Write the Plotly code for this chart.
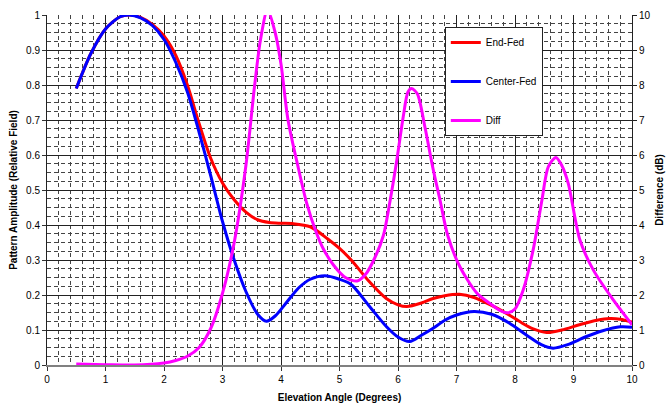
import plotly.graph_objects as go

# ---- data ----
end_fed_x = [0.5, 0.75, 1.0, 1.25, 1.4, 1.6, 1.8, 2.0, 2.2, 2.4, 2.6, 2.8, 3.0, 3.2, 3.4, 3.6,
             3.8, 4.0, 4.2, 4.5, 4.8, 5.0, 5.2, 5.5, 5.8, 6.0, 6.15, 6.4, 6.6, 6.8, 7.05, 7.3,
             7.5, 7.7, 7.9, 8.1, 8.3, 8.54, 8.8, 9.1, 9.4, 9.62, 9.8, 10.0]
end_fed_y = [0.79, 0.89, 0.96, 0.995, 1.0, 0.993, 0.973, 0.94, 0.885, 0.80, 0.69, 0.59, 0.52,
             0.472, 0.437, 0.415, 0.407, 0.405, 0.404, 0.395, 0.36, 0.333, 0.30, 0.24, 0.19,
             0.172, 0.167, 0.177, 0.19, 0.198, 0.202, 0.193, 0.178, 0.162, 0.143, 0.122, 0.104,
             0.093, 0.10, 0.115, 0.128, 0.133, 0.131, 0.123]

center_fed_x = [0.5, 0.75, 1.0, 1.25, 1.4, 1.6, 1.8, 2.0, 2.2, 2.4, 2.6, 2.8, 3.0, 3.2, 3.4, 3.6,
                3.75, 3.9, 4.1, 4.3, 4.5, 4.75, 5.0, 5.2, 5.5, 5.8, 6.0, 6.2, 6.4, 6.6, 6.8, 7.0,
                7.3, 7.6, 7.9, 8.2, 8.45, 8.65, 8.9, 9.2, 9.5, 9.8, 10.0]
center_fed_y = [0.79, 0.89, 0.96, 0.995, 1.0, 0.992, 0.97, 0.93, 0.865, 0.78, 0.665, 0.54, 0.41,
                0.30, 0.21, 0.145, 0.125, 0.14, 0.18, 0.22, 0.245, 0.255, 0.245, 0.23, 0.17,
                0.11, 0.08, 0.067, 0.085, 0.105, 0.128, 0.143, 0.153, 0.145, 0.12, 0.085, 0.058,
                0.048, 0.058, 0.08, 0.098, 0.109, 0.108]

diff_x = [0.5, 1.0, 1.5, 2.0, 2.2, 2.4, 2.6, 2.8, 3.0, 3.2, 3.4, 3.55, 3.65, 3.77, 3.9, 4.0,
          4.12, 4.3, 4.44, 4.6, 4.72, 4.9, 5.1, 5.3, 5.45, 5.6, 5.75, 5.86, 5.98, 6.09, 6.17,
          6.23, 6.33, 6.46, 6.6, 6.72, 6.85, 7.06, 7.35, 7.57, 7.75, 7.87, 8.0, 8.14, 8.31,
          8.46, 8.57, 8.7, 8.8, 8.91, 9.11, 9.34, 9.68, 10.0]
diff_y = [0.03, 0.01, 0.0, 0.06, 0.13, 0.25, 0.5, 1.05, 2.05, 3.5, 5.7, 8.0, 9.3, 10.15, 9.5,
          8.6, 7.0, 5.6, 4.62, 3.8, 3.33, 2.85, 2.5, 2.4, 2.6, 3.05, 3.7, 4.65, 5.86, 7.1, 7.8,
          7.9, 7.75, 6.8, 5.6, 4.7, 3.7, 2.8, 2.05, 1.76, 1.55, 1.49, 1.6, 2.14, 3.29, 4.71,
          5.67, 5.93, 5.7, 5.19, 3.57, 2.71, 1.86, 1.15]

x_ticks = list(range(0, 11))
y_ticks = [0, 0.1, 0.2, 0.3, 0.4, 0.5, 0.6, 0.7, 0.8, 0.9, 1]
y_tick_labels = ["0", "0.1", "0.2", "0.3", "0.4", "0.5", "0.6", "0.7", "0.8", "0.9", "1"]
y2_ticks = list(range(0, 11))

FONT = "Arial, Liberation Sans, sans-serif"

fig = go.Figure()
fig.add_trace(go.Scatter(x=end_fed_x, y=end_fed_y, name="End-Fed", mode="lines",
                         line=dict(color="#FF0000", width=3, shape="spline", smoothing=0.8),
                         legendgroup="a"))
fig.add_trace(go.Scatter(x=center_fed_x, y=center_fed_y, name="Center-Fed", mode="lines",
                         line=dict(color="#0000FF", width=3, shape="spline", smoothing=0.8),
                         legendgroup="b"))
fig.add_trace(go.Scatter(x=diff_x, y=diff_y, name="Diff", mode="lines", yaxis="y2",
                         line=dict(color="#FF00FF", width=3, shape="spline", smoothing=0.8),
                         legendgroup="c"))

fig.update_layout(
    width=668, height=406,
    margin=dict(l=47, r=36, t=15, b=41),
    paper_bgcolor="white", plot_bgcolor="white",
    font=dict(family=FONT, size=10, color="black"),
    xaxis=dict(
        range=[0, 10], tickvals=x_ticks, ticks="outside", ticklen=4, tickcolor="#333",
        showline=True, linecolor="#808080", linewidth=2,
        showgrid=True, gridcolor="#222", gridwidth=1,
        minor=dict(dtick=0.2, showgrid=True, gridcolor="#444", griddash="4px,3px", gridwidth=1),
        title=dict(text="<b>Elevation Angle (Degrees)</b>", font=dict(size=10), standoff=10),
        zeroline=False, tickfont=dict(size=10), automargin=False,
    ),
    yaxis=dict(
        range=[0, 1], tickvals=y_ticks, ticktext=y_tick_labels, ticks="outside", ticklen=4,
        tickcolor="#333", showline=True, linecolor="#222", linewidth=1,
        showgrid=True, gridcolor="#222", gridwidth=1,
        minor=dict(dtick=0.025, showgrid=True, gridcolor="#444", griddash="4px,3px", gridwidth=1),
        title=dict(text="<b>Pattern Amplitude (Relative Field)</b>", font=dict(size=10), standoff=6),
        zeroline=False, tickfont=dict(size=10), automargin=False,
    ),
    yaxis2=dict(
        range=[0, 10], tickvals=y2_ticks, overlaying="y", side="right", ticks="outside",
        ticklen=4, tickcolor="#222", showline=True, linecolor="#222", linewidth=1,
        showgrid=False, zeroline=False,
        title=dict(text="<b>Difference (dB)</b>", font=dict(size=10), standoff=6),
        tickfont=dict(size=10), automargin=False,
    ),
    legend=dict(
        x=0.68, y=0.966, xanchor="left", yanchor="top",
        bgcolor="white", bordercolor="#222", borderwidth=1,
        font=dict(size=10), traceorder="grouped", tracegroupgap=20,
    ),
    showlegend=True,
)

fig.write_html("out.html")
